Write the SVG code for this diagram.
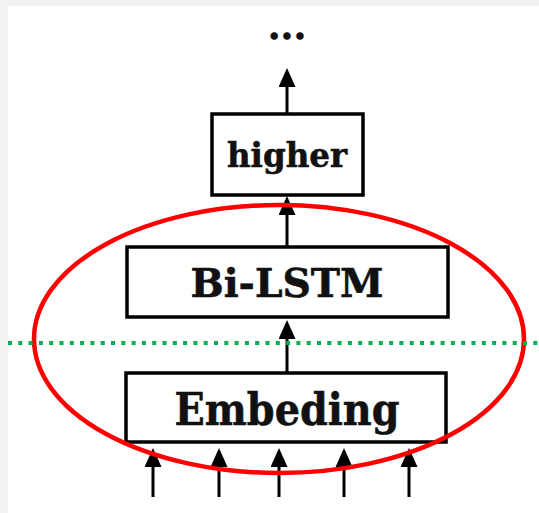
<svg xmlns="http://www.w3.org/2000/svg" width="539" height="513" viewBox="0 0 539 513">
<style>
.box{fill:#ffffff;stroke:#000000;stroke-width:3.5;}
.lbl{font-family:"DejaVu Serif","Liberation Serif",serif;font-weight:bold;fill:#111111;stroke:#111111;stroke-width:0.6;text-anchor:middle;}
.conn{stroke:#000000;stroke-width:3;fill:none;marker-end:url(#arr);}
</style>
<defs>
<marker id="arr" markerUnits="userSpaceOnUse" markerWidth="20" markerHeight="18" refX="15" refY="8.5" orient="auto">
<path d="M0,0 L19,8.5 L0,17 Z" fill="#000000"/>
</marker>
</defs>
<rect x="0" y="0" width="539" height="513" fill="#f2f2f2"/>
<rect x="8" y="6" width="531" height="507" fill="#ffffff"/>
<g id="connectors">
<line class="conn" x1="287" y1="113" x2="287" y2="72"/>
<line class="conn" x1="287" y1="246" x2="287" y2="200"/>
<line class="conn" x1="287" y1="372" x2="287" y2="324"/>
<line class="conn" x1="153" y1="497" x2="153" y2="452"/>
<line class="conn" x1="219" y1="497" x2="219" y2="452"/>
<line class="conn" x1="279" y1="497" x2="279" y2="452"/>
<line class="conn" x1="344" y1="497" x2="344" y2="452"/>
<line class="conn" x1="409" y1="497" x2="409" y2="452"/>
</g>
<g id="dots">
<text class="lbl" x="287" y="39" font-size="37" letter-spacing="0">...</text>
</g>
<g id="higher">
<rect class="box" x="212" y="114" width="151" height="81"/>
<text class="lbl" x="287" y="167" font-size="33" textLength="120" lengthAdjust="spacingAndGlyphs">higher</text>
</g>
<g id="bilstm">
<rect class="box" x="127" y="247" width="321" height="70"/>
<text class="lbl" x="287" y="297" font-size="40" textLength="193" lengthAdjust="spacingAndGlyphs">Bi-LSTM</text>
</g>
<g id="embeding">
<rect class="box" x="126" y="373" width="320" height="69"/>
<text class="lbl" x="287" y="425" font-size="44" textLength="225" lengthAdjust="spacingAndGlyphs">Embeding</text>
</g>
<g id="ellipse">
<ellipse cx="279" cy="339" rx="245" ry="134" fill="none" stroke="#ff0000" stroke-width="4.5"/>
</g>
<g id="divider">
<line x1="8" y1="343" x2="539" y2="343" stroke="#00b050" stroke-width="4" stroke-dasharray="4 6.3"/>
</g>
</svg>
